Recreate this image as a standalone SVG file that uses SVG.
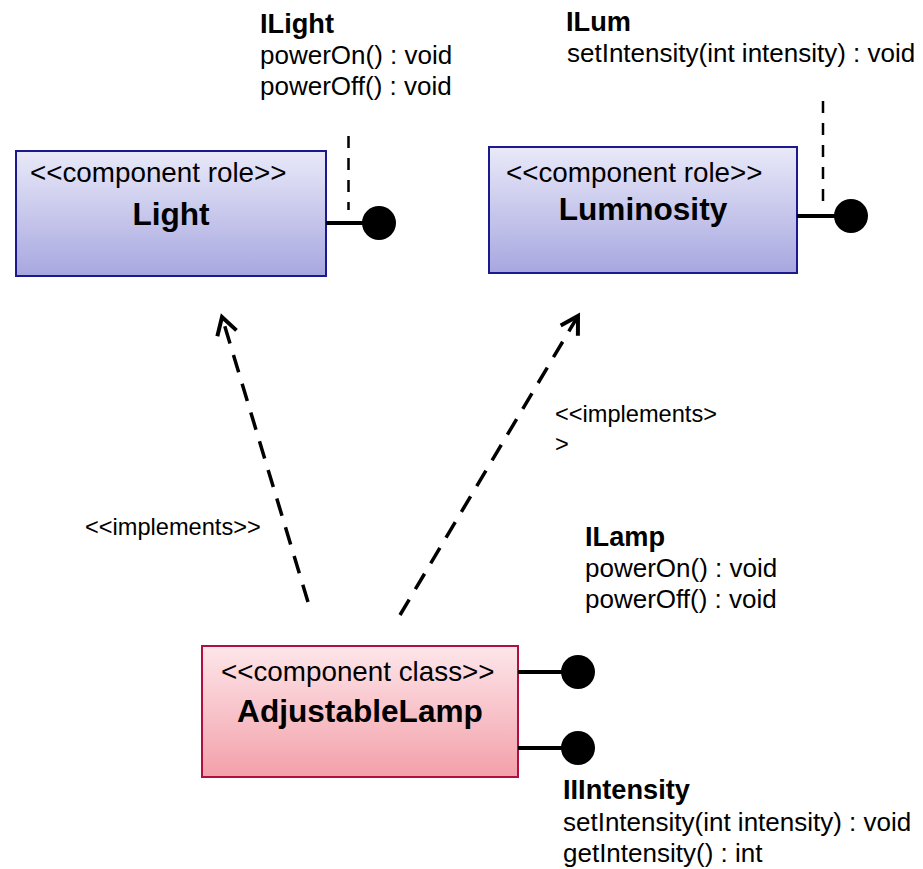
<svg xmlns="http://www.w3.org/2000/svg" width="923" height="869" viewBox="0 0 923 869">
  <style>
    text { font-family: "Liberation Sans", Arial, sans-serif; fill: #000; }
    .stereo { font-size: 27.8px; }
    .name { font-size: 31.6px; font-weight: bold; text-anchor: middle; }
    .ititle { font-size: 27.2px; font-weight: bold; }
    .member { font-size: 26px; }
    .label { font-size: 23.6px; }
    .role { fill: url(#roleFill); stroke: #1a1a8e; stroke-width: 2; }
    .cls { fill: url(#classFill); stroke: #b01040; stroke-width: 2; }
    .stem { stroke: #000; stroke-width: 4; fill: none; }
    .ball { fill: #000; }
    .note { stroke: #000; stroke-width: 2.5; stroke-dasharray: 12 10; fill: none; }
    .realize { stroke: #000; stroke-width: 3.5; stroke-dasharray: 18 12; fill: none; marker-end: url(#openHead); }
  </style>
  <defs>
    <linearGradient id="roleFill" x1="0" y1="0" x2="0" y2="1">
      <stop offset="0" stop-color="#e9e9f9"/>
      <stop offset="1" stop-color="#a7a7e0"/>
    </linearGradient>
    <linearGradient id="classFill" x1="0" y1="0" x2="0" y2="1">
      <stop offset="0" stop-color="#fde6ea"/>
      <stop offset="1" stop-color="#f3a0a9"/>
    </linearGradient>
    <marker id="openHead" markerUnits="userSpaceOnUse" markerWidth="40" markerHeight="40" viewBox="-20 -20 40 40" refX="0" refY="0" orient="auto">
      <path d="M -17 -10 L 0 0 L -17 10" fill="none" stroke="#000" stroke-width="4" stroke-dasharray="none" stroke-linejoin="miter"/>
    </marker>
  </defs>

  <!-- realization dependencies -->
  <g id="connectors">
    <line class="realize" x1="308" y1="602" x2="222" y2="317"/>
    <line class="realize" x1="400" y1="615" x2="578" y2="316"/>
    <text class="label" x="85" y="535">&lt;&lt;implements&gt;&gt;</text>
    <text class="label" x="555" y="422">&lt;&lt;implements&gt;</text>
    <text class="label" x="555" y="452">&gt;</text>
  </g>

  <!-- component role: Light -->
  <g id="light">
    <rect class="role" x="16" y="151" width="310" height="125"/>
    <text class="stereo" x="30" y="182">&lt;&lt;component role&gt;&gt;</text>
    <text class="name" x="171" y="225">Light</text>
    <line class="stem" x1="326" y1="223" x2="365" y2="223"/>
    <circle class="ball" cx="379" cy="223" r="17"/>
    <line class="note" x1="348.5" y1="136" x2="348.5" y2="210"/>
  </g>

  <g id="ilight">
    <text class="ititle" x="260" y="33">ILight</text>
    <text class="member" x="260" y="64">powerOn() : void</text>
    <text class="member" x="260" y="95">powerOff() : void</text>
  </g>

  <!-- component role: Luminosity -->
  <g id="luminosity">
    <rect class="role" x="489" y="147" width="308" height="126"/>
    <text class="stereo" x="506" y="181.5">&lt;&lt;component role&gt;&gt;</text>
    <text class="name" x="643" y="220">Luminosity</text>
    <line class="stem" x1="797" y1="216" x2="836" y2="216"/>
    <circle class="ball" cx="851" cy="216" r="17"/>
    <line class="note" x1="823" y1="101" x2="823" y2="202"/>
  </g>

  <g id="ilum">
    <text class="ititle" x="566" y="31">ILum</text>
    <text class="member" x="567" y="62">setIntensity(int intensity) : void</text>
  </g>

  <!-- component class: AdjustableLamp -->
  <g id="adjustable-lamp">
    <rect class="cls" x="202" y="646" width="316" height="131"/>
    <text class="stereo" x="221" y="681">&lt;&lt;component class&gt;&gt;</text>
    <text class="name" x="360" y="722">AdjustableLamp</text>
    <line class="stem" x1="518" y1="672" x2="563" y2="672"/>
    <circle class="ball" cx="578" cy="672" r="17"/>
    <line class="stem" x1="518" y1="748" x2="563" y2="748"/>
    <circle class="ball" cx="578" cy="748" r="17"/>
  </g>

  <g id="ilamp">
    <text class="ititle" x="585" y="546">ILamp</text>
    <text class="member" x="585" y="577">powerOn() : void</text>
    <text class="member" x="585" y="608">powerOff() : void</text>
  </g>

  <g id="iintensity">
    <text class="ititle" x="563" y="799">IIIntensity</text>
    <text class="member" x="563" y="831">setIntensity(int intensity) : void</text>
    <text class="member" x="563" y="862">getIntensity() : int</text>
  </g>
</svg>
